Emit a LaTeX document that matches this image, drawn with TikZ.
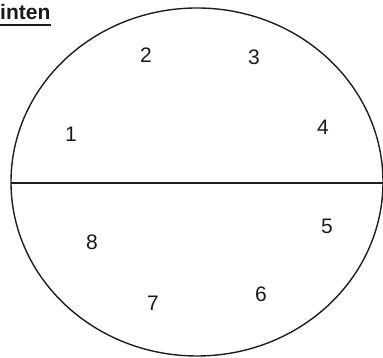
\documentclass[tikz,border=0pt]{standalone}
\usepackage{fontspec}
\setmainfont{Liberation Sans}
\usepackage{xcolor}
\definecolor{inkline}{HTML}{1E1E1E}
\definecolor{txt}{HTML}{1A1A1A}
\tikzset{
  seatnum/.style={txt, font=\fontsize{21}{25}\selectfont, inner sep=0pt},
  rim/.style={inkline, line width=1.4pt}
}
\begin{document}
\begin{tikzpicture}[x=1pt, y=1pt]
    \useasboundingbox (0,0) rectangle (383,358);
    % outline
    \draw[rim] (197,176) ellipse [x radius=186, y radius=174];
    \coordinate (rimW) at (11,175);
    \coordinate (rimE) at (383,175);
    \draw[rim] (rimW) -- (rimE);
    % heading
    \node[txt, font=\fontsize{21}{25}\selectfont\bfseries, inner sep=0pt, anchor=base west] (hint) at (0,338) {inten};
    \draw[txt, line width=1.6pt] ([yshift=-5pt]hint.base west) -- ([yshift=-5pt]hint.base east);
    % numbers
    \node[seatnum] (n1) at (71,224) {1};
    \node[seatnum] (n2) at (146,303) {2};
    \node[seatnum] (n3) at (254,301) {3};
    \node[seatnum] (n4) at (323,231) {4};
    \node[seatnum] (n5) at (327,132) {5};
    \node[seatnum] (n6) at (261,64) {6};
    \node[seatnum] (n7) at (153,55) {7};
    \node[seatnum] (n8) at (92,116) {8};
  \end{tikzpicture}
\end{document}
